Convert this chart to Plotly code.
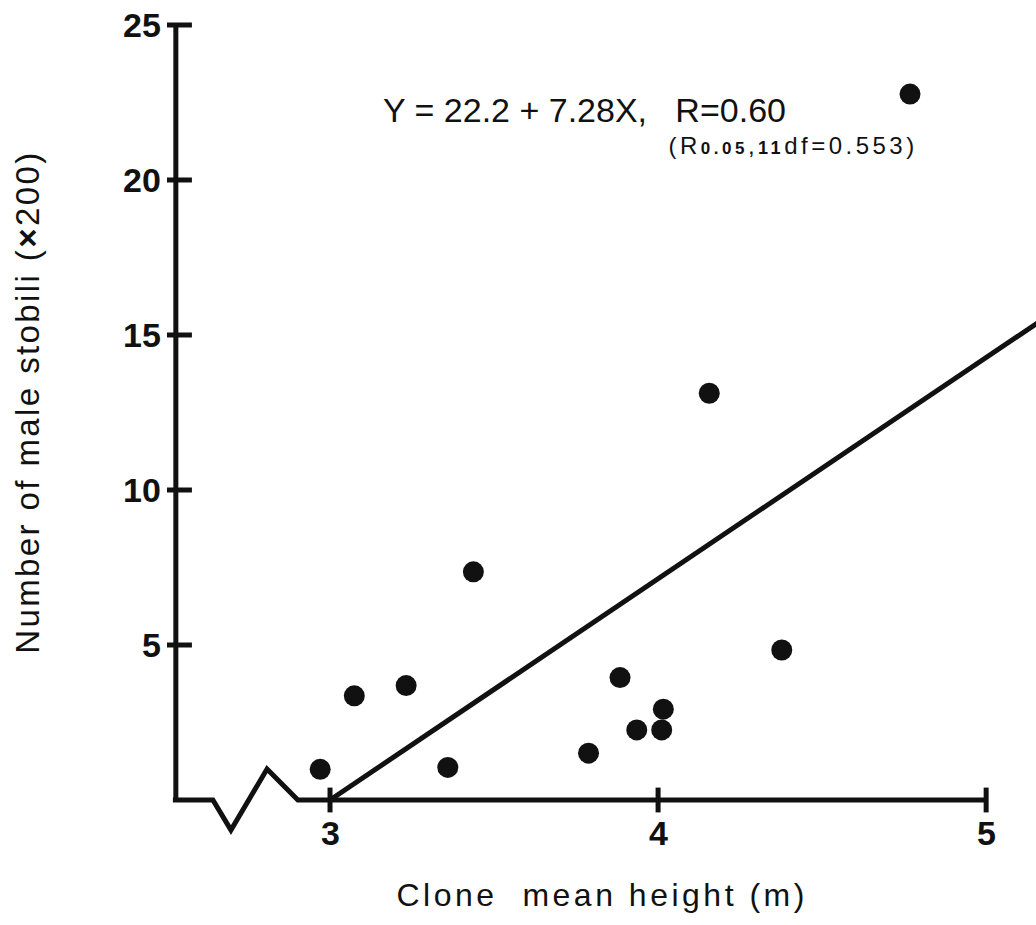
import plotly.graph_objects as go

# Data (clone mean height in m, number of male strobili x200)
height_m = [2.97, 3.074, 3.232, 3.359, 3.437, 3.788, 3.884, 3.935, 4.011, 4.016, 4.156, 4.377, 4.768]
strobili = [0.99, 3.36, 3.69, 1.05, 7.36, 1.51, 3.95, 2.26, 2.26, 2.93, 13.12, 4.84, 22.77]

# Regression line endpoints
line_x = [3.0, 5.2]
line_y = [0.0, 15.7]

x_ticks = [3, 4, 5]
y_ticks = [5, 10, 15, 20, 25]

# Axis geometry (data coords)
y_axis_x = 2.530
x_axis_left = 2.521
break_x = [x_axis_left, 2.643, 2.698, 2.808, 2.902, 5.0]
break_y = [0, 0, -0.97, 1.0, 0, 0]

fig = go.Figure()
BLACK = "#111111"
FONT = "Liberation Sans, Arial, sans-serif"
W, H = 1036, 925

def px(xp):
    return xp / W

def py(yp):
    return 1 - yp / H

line_style = dict(color=BLACK, width=5)

# x axis with break zigzag
fig.add_trace(go.Scatter(x=break_x, y=break_y, mode="lines", line=line_style,
                         hoverinfo="skip", showlegend=False))
# y axis
fig.add_trace(go.Scatter(x=[y_axis_x, y_axis_x], y=[0, 25], mode="lines", line=line_style,
                         hoverinfo="skip", showlegend=False))
# y ticks
for t in y_ticks:
    fig.add_trace(go.Scatter(x=[2.503, 2.579], y=[t, t], mode="lines", line=line_style,
                             hoverinfo="skip", showlegend=False))
    fig.add_annotation(x=2.49, y=t, text=f"<b>{t}</b>", showarrow=False,
                       xanchor="right", yanchor="middle",
                       font=dict(family=FONT, size=34, color=BLACK))
# x ticks
for t in x_ticks:
    fig.add_trace(go.Scatter(x=[t, t], y=[-0.4, 0.4], mode="lines", line=line_style,
                             hoverinfo="skip", showlegend=False))
    fig.add_annotation(x=t, y=-1.05, text=f"<b>{t}</b>", showarrow=False,
                       xanchor="center", yanchor="middle",
                       font=dict(family=FONT, size=34, color=BLACK))

# regression line
fig.add_trace(go.Scatter(x=line_x, y=line_y, mode="lines", line=line_style,
                         hoverinfo="skip", showlegend=False))
# data points
fig.add_trace(go.Scatter(x=height_m, y=strobili, mode="markers",
                         marker=dict(color=BLACK, size=21), showlegend=False))

# equation text
fig.add_annotation(x=px(584), y=py(110), xref="paper", yref="paper",
                   text="Y = 22.2 + 7.28X,   R=0.60", showarrow=False,
                   xanchor="center", yanchor="middle",
                   font=dict(family=FONT, size=34, color=BLACK))
fig.add_annotation(x=px(793), y=py(146), xref="paper", yref="paper",
                   text="(R<b><span style='font-size:17px'>0.05</span></b>,<b><span style='font-size:18px'>11</span></b>df=0.553)",
                   showarrow=False, xanchor="center", yanchor="middle",
                   font=dict(family=FONT, size=24, color=BLACK))

# axis titles
fig.add_annotation(x=px(602), y=py(895), xref="paper", yref="paper",
                   text="Clone  mean height (m)", showarrow=False,
                   xanchor="center", yanchor="middle",
                   font=dict(family=FONT, size=32, color=BLACK))
fig.add_annotation(x=px(27), y=py(402), xref="paper", yref="paper",
                   text="Number of male stobili (<b>×</b>200)", showarrow=False, textangle=-90,
                   xanchor="center", yanchor="middle",
                   font=dict(family=FONT, size=33, color=BLACK))

fig.update_layout(
    width=W, height=H,
    margin=dict(l=0, r=0, t=0, b=0),
    paper_bgcolor="white", plot_bgcolor="white",
    xaxis=dict(range=[1.994, 5.152], visible=False, fixedrange=True),
    yaxis=dict(range=[-4.032, 25.806], visible=False, fixedrange=True),
    showlegend=False,
)

post = """
document.body.style.margin = '0';
var gd = document.getElementById('{plot_id}');
gd.querySelectorAll('text.annotation-text').forEach(function (t) {
  var s = t.textContent;
  if (s.indexOf('Number') === 0) { t.style.letterSpacing = '2.4px'; }
  else if (s.indexOf('Clone') === 0) { t.style.letterSpacing = '3.5px'; }
  else if (s.indexOf('(R') === 0) { t.style.letterSpacing = '3.5px'; }
});
"""

fig.write_html("out.html", post_script=post, config={"displayModeBar": False})
